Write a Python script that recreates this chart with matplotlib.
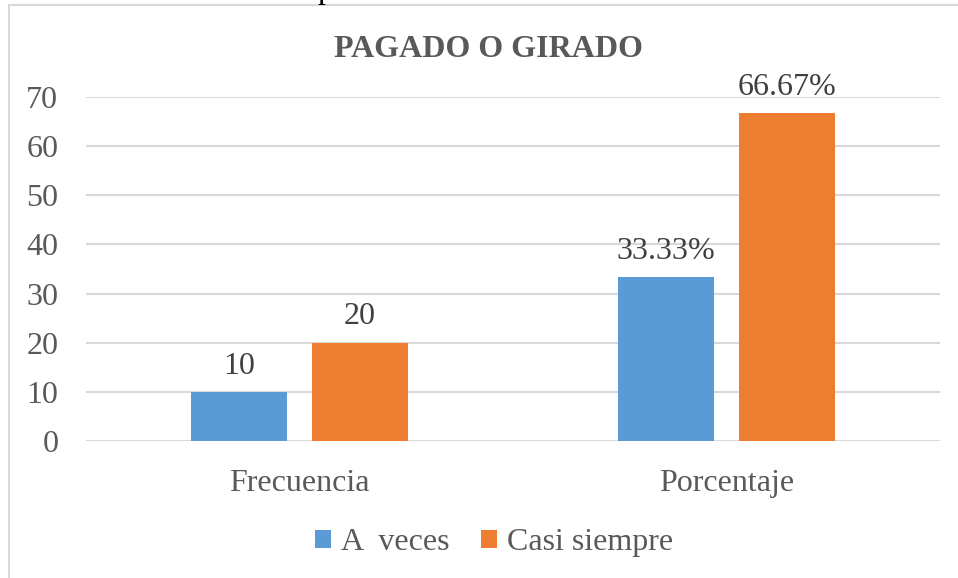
import matplotlib
matplotlib.use("Agg")
from matplotlib import pyplot as plt
from matplotlib.patches import Rectangle
import numpy as np

categories = ["Frecuencia", "Porcentaje"]
series_names = ["A  veces", "Casi siempre"]
a_veces = [10, 33.33]
casi_siempre = [20, 66.67]
a_veces_labels = ["10", "33.33%"]
casi_siempre_labels = ["20", "66.67%"]

plt.rcParams["font.family"] = ["Liberation Serif", "DejaVu Serif"]
text_color = "#595959"
blue = "#5B9BD5"
orange = "#ED7D31"
fs = 23

fig = plt.figure(figsize=(9.58, 5.78), dpi=100)
ax = fig.add_axes([0.0898, 0.237, 0.891, 0.595])

x = np.arange(len(categories))
w = 0.225
off = 0.142
b1 = ax.bar(x - off, a_veces, w, color=blue, label=series_names[0], zorder=3)
b2 = ax.bar(x + off, casi_siempre, w, color=orange, label=series_names[1], zorder=3)

for bars, labels in [(b1, a_veces_labels), (b2, casi_siempre_labels)]:
    for rect, lab in zip(bars, labels):
        ax.text(rect.get_x() + rect.get_width() / 2, rect.get_height() + 2.3, lab,
                ha="center", va="bottom", fontsize=fs, color="#404040")

ax.set_xlim(-0.5, 1.5)
ax.set_ylim(0, 70)
ax.set_yticks(range(0, 71, 10))
ax.set_xticks(x)
ax.set_xticklabels(categories)
ax.tick_params(axis="both", length=0, labelsize=fs, labelcolor=text_color)
ax.tick_params(axis="y", pad=20)
ax.tick_params(axis="x", pad=20)
ax.grid(axis="y", color="#D9D9D9", linewidth=1.5, zorder=0)
for s in ax.spines.values():
    s.set_visible(False)

fig.text(0.51, 0.914, "PAGADO O GIRADO", ha="center", va="center",
         fontsize=fs, fontweight="bold", color=text_color)

ax.legend(loc="center", bbox_to_anchor=(0.478, -0.295), ncol=2, frameon=False,
          fontsize=fs, labelcolor=text_color, handlelength=0.5, handleheight=0.5,
          handletextpad=0.3, columnspacing=1.0)

# chart border
fig.patches.append(Rectangle((9 / 958, -0.1), 1.2, 1.0 - 5 / 578 + 0.1,
                             transform=fig.transFigure, fill=False,
                             edgecolor="#D9D9D9", linewidth=1.5))
# clipped text fragment above the chart
fig.text(0.34, 1.016, "p", ha="center", va="center", fontsize=fs, color="black")

fig.savefig("out.png", dpi=100)
